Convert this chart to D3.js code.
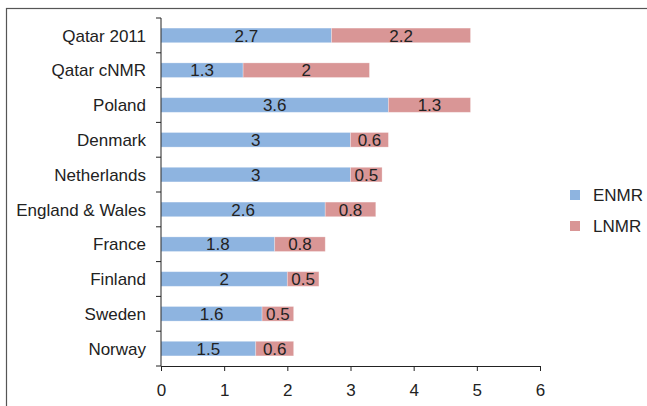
<!DOCTYPE html>
<html>
<head>
<meta charset="utf-8">
<script src="https://cdn.jsdelivr.net/npm/d3@7"></script>
<style>
  body { margin: 0; background: #fff; }
  text { font-family: "Liberation Sans", Arial, sans-serif; fill: #222; }
</style>
</head>
<body>
<div id="chart"></div>
<script>
var countries = ["Qatar 2011", "Qatar cNMR", "Poland", "Denmark", "Netherlands",
  "England & Wales", "France", "Finland", "Sweden", "Norway"];
var enmr = [2.7, 1.3, 3.6, 3, 3, 2.6, 1.8, 2, 1.6, 1.5];
var lnmr = [2.2, 2, 1.3, 0.6, 0.5, 0.8, 0.8, 0.5, 0.5, 0.6];
var seriesNames = ["ENMR", "LNMR"];
var colors = ["#8eb4e0", "#d99696"];
var xTicks = [0, 1, 2, 3, 4, 5, 6];

var W = 647, H = 406;
var margin = { top: 18, left: 161, right: 107, bottom: 40 };
var fs = 17;

var svg = d3.select("#chart").append("svg")
  .attr("width", W).attr("height", H);

// outer frame (right and bottom edges fall outside the picture)
svg.append("rect")
  .attr("x", 6.5).attr("y", 8.5)
  .attr("width", W + 10).attr("height", H + 10)
  .attr("fill", "none").attr("stroke", "#555").attr("stroke-width", 1.2);

var x = d3.scaleLinear().domain([0, 6]).range([margin.left, 540]);
var y = d3.scaleBand().domain(countries).range([margin.top, 366]).paddingInner(0.58).paddingOuter(0.29);

var rows = countries.map(function (c, i) {
  return { name: c, vals: [enmr[i], lnmr[i]] };
});

var g = svg.append("g");
rows.forEach(function (r) {
  var start = 0;
  r.vals.forEach(function (v, k) {
    g.append("rect")
      .attr("x", x(start))
      .attr("y", y(r.name))
      .attr("width", x(start + v) - x(start))
      .attr("height", y.bandwidth())
      .attr("fill", colors[k])
      .attr("stroke", "#fff").attr("stroke-opacity", 0.35).attr("stroke-width", 0.8);
    g.append("text")
      .attr("x", (x(start) + x(start + v)) / 2)
      .attr("y", y(r.name) + y.bandwidth() / 2)
      .attr("dy", "0.36em")
      .attr("text-anchor", "middle")
      .attr("font-size", fs)
      .text(v);
    start += v;
  });
});

// y axis with ticks between categories
var yAxis = svg.append("g");
yAxis.append("line")
  .attr("x1", margin.left).attr("x2", margin.left)
  .attr("y1", margin.top).attr("y2", 366)
  .attr("stroke", "#222");
d3.range(countries.length + 1).forEach(function (i) {
  var yy = margin.top + i * (366 - margin.top) / countries.length;
  yAxis.append("line")
    .attr("x1", margin.left - 5).attr("x2", margin.left)
    .attr("y1", yy).attr("y2", yy)
    .attr("stroke", "#222");
});
countries.forEach(function (c) {
  yAxis.append("text")
    .attr("x", 146)
    .attr("y", y(c) + y.bandwidth() / 2)
    .attr("dy", "0.36em")
    .attr("text-anchor", "end")
    .attr("font-size", fs)
    .text(c);
});

// x axis
var xAxis = svg.append("g").attr("transform", "translate(0,366)")
  .call(d3.axisBottom(x).tickValues(xTicks).tickFormat(d3.format("d")).tickSize(5).tickSizeOuter(0));
xAxis.select(".domain").attr("stroke", "#222");
xAxis.selectAll(".tick line").attr("stroke", "#222");
xAxis.selectAll(".tick text")
  .attr("font-size", fs)
  .attr("font-family", "Liberation Sans, Arial, sans-serif")
  .attr("fill", "#222")
  .attr("dy", "1.3em");

// legend
var legend = svg.append("g");
seriesNames.forEach(function (s, i) {
  var ly = 195 + i * 31;
  legend.append("rect")
    .attr("x", 570).attr("y", ly - 5)
    .attr("width", 10).attr("height", 10)
    .attr("fill", colors[i]);
  legend.append("text")
    .attr("x", 593).attr("y", ly)
    .attr("dy", "0.36em")
    .attr("font-size", fs)
    .text(s);
});
</script>
</body>
</html>
